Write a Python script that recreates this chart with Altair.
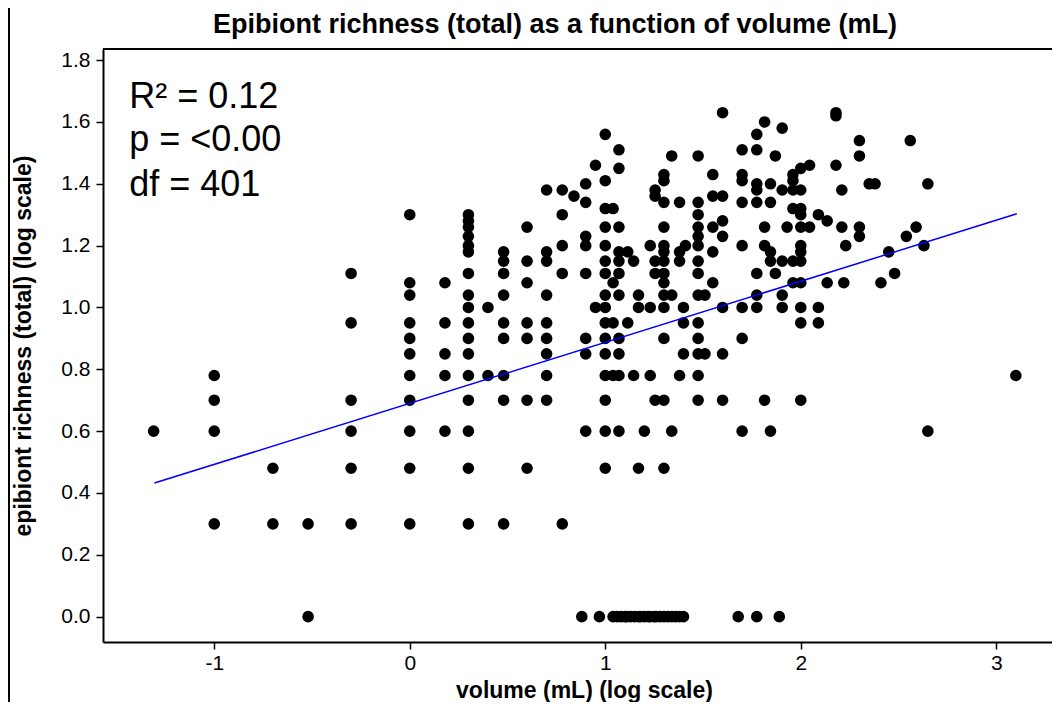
import altair as alt
import pandas as pd

FONT = "Liberation Sans, Arial, sans-serif"

# ---- data (log10 volume, log10 richness) ----
# each x value (log10 volume) with the richness values stacked at it
col_x = [-1.31, -1.00, -0.70, -0.52, -0.30, 0.00, 0.18, 0.30, 0.40, 0.48,
         0.60, 0.70, 0.78, 0.84, 0.88, 0.90, 0.95, 0.97, 1.00, 1.04,
         1.07, 1.115, 1.145, 1.17, 1.20, 1.23, 1.255, 1.30, 1.34, 1.38,
         1.40, 1.41, 1.475, 1.51, 1.55, 1.60, 1.68, 1.70, 1.775, 1.815,
         1.845, 1.87, 1.89, 1.905, 1.93, 1.96, 2.00, 2.045, 2.09, 2.135,
         2.18, 2.21, 2.22, 2.23, 2.30, 2.35, 2.38, 2.41, 2.45, 2.48,
         2.54, 2.56, 2.59, 2.63, 2.65, 3.10]
col_y = [
    [0.60],
    [0.78, 0.70, 0.60, 0.30],
    [0.48, 0.30],
    [0.30, 0.00],
    [1.11, 0.95, 0.70, 0.60, 0.48, 0.30],
    [1.30, 1.08, 1.04, 0.95, 0.90, 0.85, 0.78, 0.70, 0.60, 0.48, 0.30],
    [1.08, 0.95, 0.85, 0.78, 0.60],
    [1.30, 1.28, 1.26, 1.23, 1.20, 1.18, 1.11, 1.04, 1.00, 0.95, 0.90, 0.85, 0.78, 0.70, 0.60, 0.48, 0.30],
    [1.00, 0.78],
    [1.18, 1.15, 1.11, 1.04, 0.95, 0.90, 0.78, 0.70, 0.30],
    [1.26, 1.15, 1.08, 0.95, 0.90, 0.70, 0.48],
    [1.38, 1.18, 1.15, 1.04, 0.95, 0.90, 0.85, 0.78, 0.70],
    [1.38, 1.30, 1.20, 1.11, 0.30],
    [1.36],
    [0.00],
    [1.40, 1.34, 1.23, 1.20, 1.11, 0.90, 0.85, 0.60],
    [1.46, 1.00],
    [0.00],
    [1.56, 1.41, 1.32, 1.26, 1.20, 1.15, 1.11, 1.04, 1.00, 0.95, 0.90, 0.85, 0.78, 0.70, 0.60, 0.48],
    [1.32, 1.08, 0.95, 0.78],
    [1.51, 1.45, 1.26, 1.18, 1.15, 1.11, 1.04, 0.90, 0.85, 0.78, 0.60],
    [1.18, 0.95],
    [1.15, 0.78],
    [1.04, 1.00, 0.48],
    [0.60],
    [1.20, 1.00, 0.78],
    [1.38, 1.36, 1.15, 1.11, 0.70],
    [1.43, 1.41, 1.34, 1.26, 1.20, 1.18, 1.15, 1.11, 1.08, 1.04, 1.00, 0.90, 0.70, 0.48],
    [1.49, 1.04, 0.60],
    [1.34, 1.18, 1.15, 0.78],
    [1.00, 0.95, 0.85],
    [1.20],
    [1.49, 1.34, 1.30, 1.26, 1.23, 1.20, 1.15, 1.11, 1.04, 0.95, 0.90, 0.85, 0.78, 0.70],
    [1.04, 0.85],
    [1.43, 1.36, 1.26, 1.18, 1.08],
    [1.63, 1.36, 1.28, 1.23, 1.00, 0.85, 0.70],
    [0.00],
    [1.51, 1.43, 1.41, 1.34, 1.20, 1.00, 0.90, 0.60],
    [1.56, 1.51, 1.40, 1.38, 1.34, 1.11, 1.04, 1.00, 0.00],
    [1.60, 1.26, 1.20, 0.70],
    [1.40, 1.34, 1.18, 1.15, 0.60],
    [1.49, 1.11],
    [0.00],
    [1.58, 1.38, 1.15, 1.04, 1.00],
    [1.26],
    [1.43, 1.41, 1.38, 1.32, 1.15, 1.08],
    [1.45, 1.38, 1.32, 1.30, 1.26, 1.20, 1.18, 1.15, 1.08, 1.00, 0.95, 0.70],
    [1.46, 1.26],
    [1.30, 1.00, 0.95],
    [1.28, 1.08],
    [1.63, 1.62, 1.46],
    [1.38, 1.26],
    [1.08],
    [1.20],
    [1.54, 1.49, 1.26, 1.23],
    [1.40],
    [1.40],
    [1.08],
    [1.18],
    [1.11],
    [1.23],
    [1.54],
    [1.26],
    [1.20],
    [1.40, 0.60],
    [0.78],
]
# dense run of samples with richness 1 (log = 0)
zero_x = [1.04, 1.06, 1.08, 1.10, 1.11, 1.13, 1.15, 1.17, 1.18, 1.20, 1.22,
          1.23, 1.25, 1.26, 1.28, 1.30, 1.32, 1.34, 1.36, 1.38, 1.40]

# fitted line end points
fit_x = [-1.306, 3.105]
fit_y = [0.432, 1.303]

# statistics text
stat_text = ["R\u00b2 = 0.12", "p = <0.00", "df = 401"]
stat_x = [-1.435, -1.435, -1.435]
stat_y = [1.645, 1.505, 1.359]

title_text = ["Epibiont richness (total) as a function of volume (mL)"]

x_ticks = [-1, 0, 1, 2, 3]
y_ticks = [0.0, 0.2, 0.4, 0.6, 0.8, 1.0, 1.2, 1.4, 1.6, 1.8]

# ---- build tables ----
xs, ys = [], []
for xv, yl in zip(col_x, col_y):
    for yv in yl:
        xs.append(xv)
        ys.append(yv)
for xv in zero_x:
    xs.append(xv)
    ys.append(0.0)
pts = pd.DataFrame({"vol": xs, "rich": ys})
fit = pd.DataFrame({"vol": fit_x, "rich": fit_y})
stats = pd.DataFrame({"vol": stat_x, "rich": stat_y, "txt": stat_text})
ttl = pd.DataFrame({"t": title_text})

W, H = 949, 593
xscale = alt.Scale(domain=[-1.569, 3.285], nice=False, zero=False)
yscale = alt.Scale(domain=[-0.082, 1.836], nice=False, zero=False)

xaxis = alt.Axis(values=x_ticks, labelExpr="'' + datum.value",
                 title="volume (mL) (log scale)", titleFontSize=23,
                 titleFontWeight="bold", titleX=481, titleY=55,
                 titleBaseline="alphabetic", titleAlign="center",
                 labelFontSize=21, labelPadding=3, tickSize=7, grid=False)
yaxis = alt.Axis(values=y_ticks, format=".1f",
                 title="epibiont richness (total) (log scale)", titleFontSize=23,
                 titleFontWeight="bold", titleX=-73, titleY=H / 2,
                 titleAngle=-90, titleAlign="center", titleBaseline="alphabetic",
                 labelFontSize=21, labelPadding=6, tickSize=7, grid=False)

points = alt.Chart(pts).mark_circle(size=135, color="black", opacity=1).encode(
    x=alt.X("vol:Q", scale=xscale, axis=xaxis),
    y=alt.Y("rich:Q", scale=yscale, axis=yaxis),
)
line = alt.Chart(fit).mark_line(color="#0000FF", strokeWidth=1.5).encode(
    x=alt.X("vol:Q", scale=xscale), y=alt.Y("rich:Q", scale=yscale)
)
ann = alt.Chart(stats).mark_text(
    align="left", baseline="alphabetic", font=FONT, fontSize=36, color="black"
).encode(x=alt.X("vol:Q", scale=xscale), y=alt.Y("rich:Q", scale=yscale), text="txt:N")

title = alt.Chart(ttl).mark_text(
    align="center", baseline="alphabetic", font=FONT, fontSize=27,
    fontWeight="bold", color="black"
).encode(x=alt.value(452), y=alt.value(-16.5), text="t:N")

top_border = alt.Chart(pts).mark_rule(color="black", strokeWidth=2).encode(
    x=alt.value(0), x2=alt.value(W), y=alt.value(0)
)
frame_left = alt.Chart(pts).mark_rule(color="black", strokeWidth=2).encode(
    x=alt.value(-94), y=alt.value(-41), y2=alt.value(H + 60)
)

chart = (
    alt.layer(top_border, frame_left, points, line, ann, title)
    .properties(
        width=W, height=H,
        autosize=alt.AutoSizeParams(type="none"),
        padding={"left": 95, "top": 41, "right": 0, "bottom": 60},
    )
    .configure_view(stroke=None)
    .configure_axis(
        labelFont=FONT, titleFont=FONT, labelColor="black", titleColor="black",
        domainColor="black", domainWidth=2, tickColor="black", tickWidth=1.5,
    )
)

chart.save("out.html", embed_options={"renderer": "svg", "actions": False})
